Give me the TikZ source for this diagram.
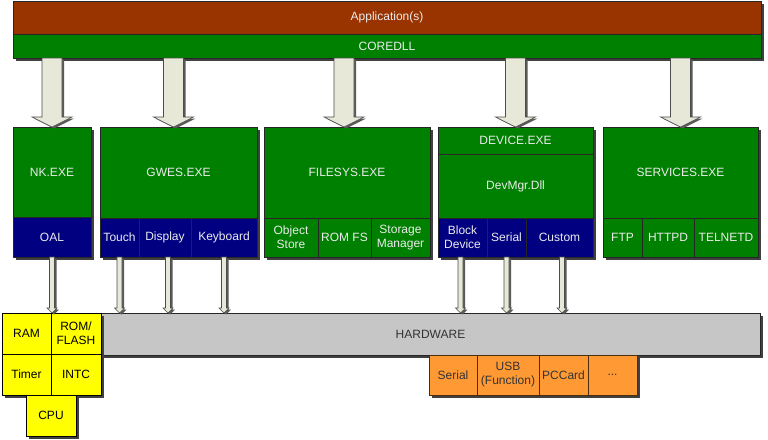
\documentclass[tikz,border=0pt]{standalone}
\usepackage{fontspec}
\setmainfont{Liberation Sans}
\usetikzlibrary{positioning,calc,shadows}
\definecolor{AppBrown}{RGB}{153,51,0}
\definecolor{ModGreen}{RGB}{0,128,0}
\definecolor{DrvBlue}{RGB}{0,0,128}
\definecolor{ChipYellow}{RGB}{255,255,0}
\definecolor{PortOrange}{RGB}{255,153,51}
\definecolor{HwGray}{RGB}{198,198,198}
\definecolor{PipeFill}{RGB}{232,232,216}
\definecolor{LabelWhite}{RGB}{236,236,236}

% hollow call arrow: start, end, half shaft, half head, head length
\newcommand\callarrow[5]{%
  \path #1 coordinate (ca-s) #2 coordinate (ca-e);
  \draw[pipe] ($(ca-s)+(-#3,0)$) -- ($(ca-e)+(-#3,-#5)$) -- ($(ca-e)+(-#4,-#5)$) -- (ca-e)
    -- ($(ca-e)+(#4,-#5)$) -- ($(ca-e)+(#3,-#5)$) -- ($(ca-s)+(#3,0)$) -- cycle;}

\begin{document}
\begin{tikzpicture}[
        x=1pt, y=-1pt,
        font=\fontsize{12}{14}\selectfont,
        cell/.style={
            draw=black!85,
            line width=0.6pt,
            outer sep=0pt,
            inner sep=1pt,
            align=center,
            text=LabelWhite,
            anchor=north west,
            drop shadow={shadow xshift=2.5pt, shadow yshift=-2.5pt, fill=black!75, opacity=1}
        },
        greencell/.style={cell, fill=ModGreen},
        bluecell/.style={cell, fill=DrvBlue},
        chipcell/.style={cell, fill=ChipYellow, text=black, draw=black},
        portcell/.style={cell, fill=PortOrange, text=black!80, draw=black!70!PortOrange},
        pipe/.style={
            draw=black!70,
            fill=PipeFill,
            line width=0.6pt,
            drop shadow={shadow xshift=2pt, shadow yshift=-1.5pt, fill=black!65, opacity=1}
        }
    ]
        \useasboundingbox (0,0) rectangle (768,439);

        \node[cell, fill=AppBrown, minimum width=748, minimum height=33] (app) at (13,1) {Application(s)};
        \node[greencell, minimum width=748, minimum height=24] (coredll) at (app.south west) {COREDLL};

        \node[greencell, minimum width=78, minimum height=90] (nk) at (13,127) {NK.EXE};
        \node[bluecell, minimum width=78, minimum height=40] (oal) at (nk.south west) {OAL};

        \node[greencell, minimum width=157, minimum height=91] (gwes) at (100,127) {GWES.EXE};
        \node[bluecell, minimum width=39, minimum height=39] (touch) at (gwes.south west) {Touch};
        \node[bluecell, minimum width=52, minimum height=39, right=0pt of touch] (display) {Display};
        \node[bluecell, minimum width=66, minimum height=39, right=0pt of display] (keyboard) {Keyboard};

        \node[greencell, minimum width=166, minimum height=91] (filesys) at (264,127) {FILESYS.EXE};
        \node[greencell, minimum width=54, minimum height=39] (objstore) at (filesys.south west) {Object\\Store};
        \node[greencell, minimum width=53, minimum height=39, right=0pt of objstore] (romfs) {ROM FS};
        \node[greencell, minimum width=59, minimum height=39, right=0pt of romfs] (storemgr) {Storage\\Manager};

        \node[greencell, minimum width=155, minimum height=27] (device) at (438,127) {DEVICE.EXE};
        \node[greencell, minimum width=155, minimum height=64] (devmgr) at (device.south west) {DevMgr.Dll};
        \node[bluecell, minimum width=49, minimum height=39] (blockdev) at (devmgr.south west) {Block\\Device};
        \node[bluecell, minimum width=39, minimum height=39, right=0pt of blockdev] (serialdrv) {Serial};
        \node[bluecell, minimum width=67, minimum height=39, right=0pt of serialdrv] (customdrv) {Custom};

        \node[greencell, minimum width=155, minimum height=91] (services) at (603,127) {SERVICES.EXE};
        \node[greencell, minimum width=39, minimum height=39] (ftp) at (services.south west) {FTP};
        \node[greencell, minimum width=52, minimum height=39, right=0pt of ftp] (httpd) {HTTPD};
        \node[greencell, minimum width=64, minimum height=39, right=0pt of httpd] (telnetd) {TELNETD};

        \node[cell, fill=HwGray, text=black!80, minimum width=659, minimum height=42] (hw) at (101,313) {HARDWARE};
        \node[chipcell, minimum width=49, minimum height=41] (ram) at (2,313) {RAM};
        \node[chipcell, minimum width=50, minimum height=41, right=0pt of ram] (rom) {ROM/\\FLASH};
        \node[chipcell, minimum width=49, minimum height=41] (timer) at (ram.south west) {Timer};
        \node[chipcell, minimum width=50, minimum height=41, right=0pt of timer] (intc) {INTC};
        \node[chipcell, minimum width=50, minimum height=41] (cpu) at (26,395) {CPU};

        \node[portcell, minimum width=48, minimum height=40] (serialport) at (429,355) {Serial};
        \node[portcell, minimum width=62, minimum height=40, right=0pt of serialport] (usb) {USB\\(Function)};
        \node[portcell, minimum width=49, minimum height=40, right=0pt of usb] (pccard) {PCCard};
        \node[portcell, minimum width=49, minimum height=40, right=0pt of pccard] (moreports) {...};

        % calls from coredll into the processes
        \callarrow{(nk.north |- coredll.south)}{(nk.north)}{10}{20}{10}
        \callarrow{([xshift=-5pt]gwes.north |- coredll.south)}{([xshift=-5pt]gwes.north)}{10}{20}{10}
        \callarrow{([xshift=-3pt]filesys.north |- coredll.south)}{([xshift=-3pt]filesys.north)}{10}{20}{10}
        \callarrow{(device.north |- coredll.south)}{(device.north)}{10}{20}{10}
        \callarrow{(services.north |- coredll.south)}{(services.north)}{10}{20}{10}

        % drivers down to the hardware
        \callarrow{(oal.south)}{(oal.south |- hw.north)}{2.5}{5}{5}
        \callarrow{(touch.south)}{(touch.south |- hw.north)}{2.5}{5}{5}
        \callarrow{([xshift=3pt]display.south)}{([xshift=3pt]display.south |- hw.north)}{2.5}{5}{5}
        \callarrow{(keyboard.south)}{(keyboard.south |- hw.north)}{2.5}{5}{5}
        \callarrow{([xshift=-2pt]blockdev.south)}{([xshift=-2pt]blockdev.south |- hw.north)}{2.5}{5}{5}
        \callarrow{(serialdrv.south)}{(serialdrv.south |- hw.north)}{2.5}{5}{5}
        \callarrow{([xshift=2.5pt]customdrv.south)}{([xshift=2.5pt]customdrv.south |- hw.north)}{2.5}{5}{5}
    \end{tikzpicture}
\end{document}
